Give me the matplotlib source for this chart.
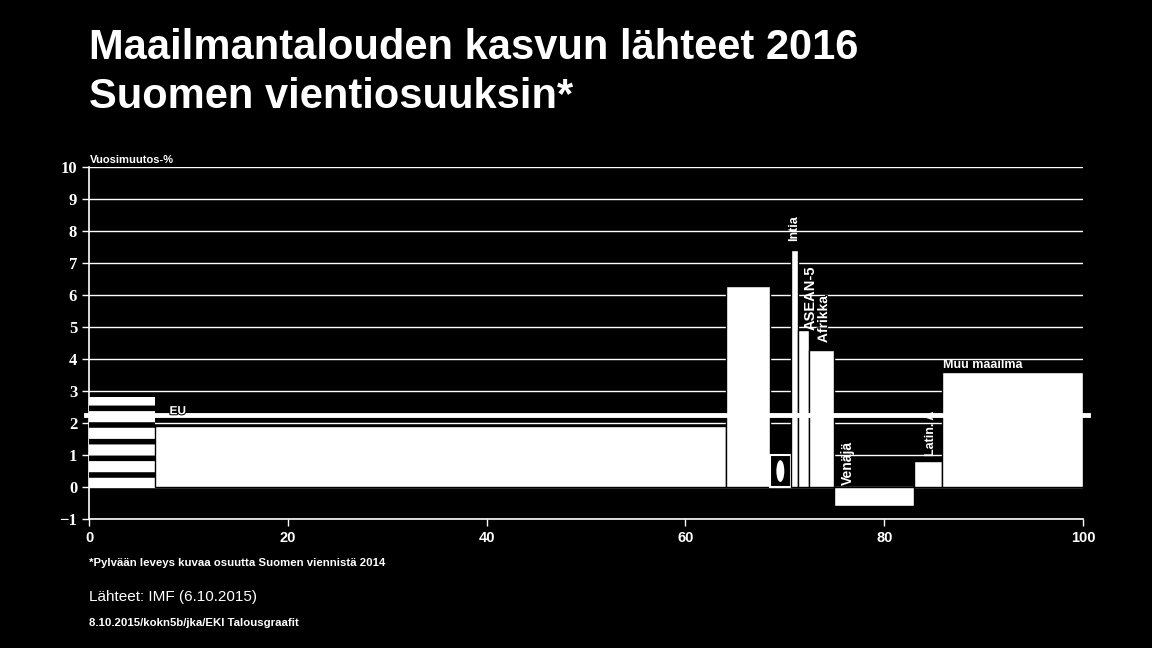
import matplotlib.pyplot as plt
import matplotlib.patheffects as pe
from matplotlib.patches import Ellipse
import numpy as np

# alueet ja niiden osuus Suomen viennistä 2014 (%), kasvu 2016 (%)
alueet = ['Yhdysvallat', 'EU', 'Kiina', 'Japani', 'Intia', 'ASEAN-5',
          'Afrikka', 'Venäjä', 'Latin. A', 'Muu maailma']
osuudet = [6.6, 57.5, 4.4, 2.1, 0.7, 1.1, 2.5, 8.1, 2.8, 14.2]
kasvu = [2.8, 1.9, 6.3, 1.0, 7.4, 4.9, 4.3, -0.6, 0.8, 3.6]
kasvu_yht = 2.25

yticks = list(range(-1, 11))
xticks = [0, 20, 40, 60, 80, 100]

narrow = ['Liberation Sans Narrow', 'Liberation Sans', 'DejaVu Sans']
plt.rcParams['hatch.linewidth'] = 4.0

fig = plt.figure(figsize=(11.52, 6.48), dpi=100, facecolor='black')
ax = fig.add_axes([0.0773, 0.199, 0.8628, 0.543])
ax.set_facecolor('black')

lefts = np.concatenate([[0], np.cumsum(osuudet)[:-1]])
centers = lefts + np.array(osuudet) / 2

for i, alue in enumerate(alueet):
    if alue == 'Yhdysvallat':
        ax.bar(lefts[i], kasvu[i], width=osuudet[i], align='edge',
               facecolor='white', edgecolor='black', hatch='-', linewidth=0, zorder=3)
    elif alue == 'Japani':
        ax.bar(lefts[i], kasvu[i], width=osuudet[i], align='edge',
               facecolor='black', edgecolor='white', linewidth=1.5, zorder=3)
        ax.add_patch(Ellipse((centers[i], kasvu[i] / 2), 0.8, 0.68,
                             facecolor='white', edgecolor='none', zorder=4))
    else:
        ax.bar(lefts[i], kasvu[i], width=osuudet[i], align='edge',
               facecolor='white', edgecolor='black', linewidth=1, zorder=3)

# painotettu kasvu
ax.axhline(kasvu_yht, xmin=-0.003, xmax=1.005, color='white', lw=3.5, zorder=5,
           clip_on=False)

# nimiöt
stroke = [pe.withStroke(linewidth=1.5, foreground='black')]
ax.text(8.1, kasvu_yht + 0.12, 'EU', color='white', fontsize=8.5, fontweight='bold',
        family=narrow, va='center', ha='left', zorder=6, path_effects=stroke)
ax.text(centers[4], kasvu[4] + 0.3, 'Intia', color='white', fontsize=9,
        fontweight='bold', family=narrow, rotation=90, ha='center', va='bottom', zorder=6)
ax.text(72.6, kasvu[5], 'ASEAN-5', color='white', fontsize=10.5,
        fontweight='bold', family=narrow, rotation=90, ha='center', va='bottom', zorder=6)
ax.text(centers[6] + 0.2, kasvu[6] + 0.2, 'Afrikka', color='white', fontsize=10,
        fontweight='bold', family=narrow, rotation=90, ha='center', va='bottom', zorder=6,
        path_effects=stroke)
ax.text(76.3, 0.05, 'Venäjä', color='white', fontsize=10,
        fontweight='bold', family=narrow, rotation=90, ha='center', va='bottom', zorder=6)
ax.text(centers[8] + 0.3, kasvu[8] + 0.17, 'Latin. A', color='white', fontsize=9,
        fontweight='bold', family=narrow, rotation=90, ha='center', va='bottom', zorder=6)
ax.text(lefts[9] + 0.1, kasvu[9] + 0.03, 'Muu maailma', color='white', fontsize=9,
        fontweight='bold', family=narrow, ha='left', va='bottom', zorder=6)

ax.set_xlim(0, 100)
ax.set_ylim(-1, 10)
ax.set_yticks(yticks)
ax.set_yticklabels(['\u22121' if t < 0 else str(t) for t in yticks],
                   family='Liberation Serif', fontweight='bold', fontsize=12)
ax.set_xticks(xticks)
ax.set_xticklabels([str(t) for t in xticks], family='Liberation Sans',
                   fontweight='bold', fontsize=10.5)
ax.tick_params(colors='white', direction='out', length=5, width=1)
ax.grid(axis='y', color='white', linewidth=1, zorder=0)
ax.set_axisbelow(True)
for s in ['top', 'right']:
    ax.spines[s].set_visible(False)
for s in ['left', 'bottom']:
    ax.spines[s].set_color('white')
    ax.spines[s].set_linewidth(1.2)

fig.text(0.078, 0.745, 'Vuosimuutos-%', color='white', fontsize=8,
         fontweight='bold', family=narrow, va='bottom')

fig.text(0.077, 0.957, 'Maailmantalouden kasvun lähteet 2016\nSuomen vientiosuuksin*',
         color='white', fontsize=30, fontweight='bold', family='Liberation Sans',
         va='top', linespacing=1.3)

fig.text(0.077, 0.131, '*Pylvään leveys kuvaa osuutta Suomen viennistä 2014',
         color='white', fontsize=8.2, fontweight='bold', family=narrow, va='center')
fig.text(0.077, 0.079, 'Lähteet: IMF (6.10.2015)', color='white', fontsize=11,
         family='Liberation Sans', va='center')
fig.text(0.077, 0.039, '8.10.2015/kokn5b/jka/EKI Talousgraafit', color='white',
         fontsize=8.2, fontweight='bold', family=narrow, va='center')

fig.savefig('out.png', dpi=100, facecolor='black')
